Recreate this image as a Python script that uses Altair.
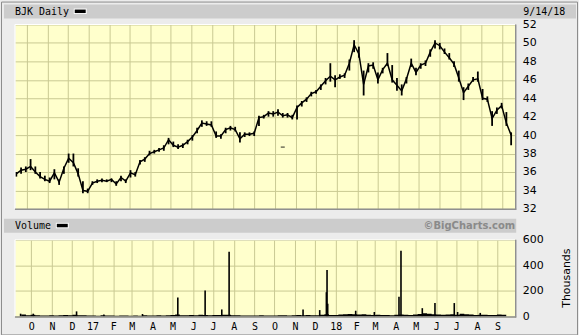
import altair as alt
import pandas as pd

# ---------------- data ----------------
week_start = "2016-09-16"   # weekly samples (Fridays)
n_weeks = 105

price_low = [
    35.5, 35.8, 36.0, 36.2, 35.8, 35.3, 35.0, 34.8, 35.2, 34.6,
    35.8, 37.0, 36.6, 35.5, 33.7, 33.7, 34.6, 34.8, 34.9, 34.9,
    34.9, 34.5, 35.0, 34.8, 35.4, 35.5, 36.8, 37.1, 37.8, 38.0,
    38.2, 38.3, 39.0, 38.7, 38.5, 38.6, 39.0, 39.4, 40.2, 40.9,
    41.0, 40.9, 39.7, 39.6, 40.2, 40.5, 40.4, 39.2, 39.8, 39.9,
    39.9, 41.0, 41.8, 42.0, 42.0, 42.1, 41.9, 41.9, 41.7, 41.7,
    43.1, 43.6, 44.2, 44.5, 44.9, 45.5, 45.8, 45.2, 46.1, 46.2,
    47.0, 49.0, 48.4, 44.3, 46.8, 47.2, 45.6, 46.7, 47.5, 45.7,
    44.8, 44.3, 45.6, 47.4, 46.5, 47.2, 47.5, 48.5, 49.4, 49.3,
    48.8, 48.2, 47.4, 45.8, 43.8, 44.9, 45.8, 45.8, 43.8, 43.6,
    41.0, 42.3, 42.9, 41.0, 38.9]
price_high = [
    36.0, 36.5, 36.6, 37.4, 36.6, 36.0, 35.6, 35.4, 36.3, 35.2,
    36.6, 38.0, 38.0, 36.4, 35.0, 34.2, 35.0, 35.2, 35.3, 35.2,
    35.3, 35.0, 35.6, 35.2, 36.2, 36.0, 37.3, 37.6, 38.3, 38.4,
    38.6, 38.9, 39.7, 39.3, 39.0, 39.1, 39.5, 40.0, 40.8, 41.6,
    41.5, 41.5, 40.4, 40.1, 40.8, 41.0, 40.9, 40.3, 40.3, 40.3,
    40.4, 42.1, 42.2, 42.6, 42.6, 42.8, 42.4, 42.4, 42.2, 43.2,
    43.7, 44.1, 44.7, 44.9, 45.5, 46.2, 47.8, 46.5, 46.6, 46.7,
    48.2, 50.3, 49.6, 47.0, 47.8, 47.9, 46.8, 47.3, 48.9, 47.6,
    46.2, 45.5, 46.3, 48.3, 47.3, 47.8, 48.1, 49.3, 50.3, 50.0,
    49.4, 48.9, 48.0, 47.0, 45.2, 45.6, 46.3, 46.9, 45.0, 44.2,
    42.6, 43.0, 43.5, 42.5, 40.3]
price_close = [
    35.8, 36.2, 36.3, 36.6, 36.0, 35.5, 35.2, 35.0, 35.9, 34.9,
    36.4, 37.5, 37.0, 35.8, 34.0, 33.9, 34.8, 35.0, 35.1, 35.0,
    35.2, 34.7, 35.4, 35.0, 35.9, 35.7, 37.1, 37.4, 38.0, 38.2,
    38.4, 38.6, 39.5, 38.9, 38.7, 38.9, 39.3, 39.8, 40.5, 41.3,
    41.2, 41.1, 39.9, 39.9, 40.6, 40.8, 40.6, 39.6, 40.1, 40.1,
    40.2, 41.9, 42.0, 42.4, 42.3, 42.5, 42.1, 42.2, 41.9, 43.0,
    43.5, 43.9, 44.5, 44.7, 45.3, 45.9, 46.4, 46.0, 46.3, 46.5,
    47.8, 49.8, 48.8, 45.5, 47.5, 47.6, 46.0, 47.1, 47.8, 46.0,
    45.4, 44.8, 46.1, 47.8, 46.8, 47.6, 47.8, 49.0, 50.0, 49.7,
    49.0, 48.4, 47.7, 46.2, 44.6, 45.3, 46.0, 46.1, 44.0, 43.9,
    41.8, 42.7, 43.2, 41.3, 40.0]

# weekly typical volume, thousands
vol_base = [
    15, 10, 14, 9, 8, 7, 9, 8, 10, 12,
    9, 14, 10, 9, 8, 7, 6, 9, 7, 8,
    6, 7, 8, 6, 7, 6, 9, 8, 7, 9,
    8, 10, 12, 15, 10, 9, 11, 10, 14, 12,
    10, 12, 11, 14, 13, 10, 9, 8, 7, 8,
    7, 9, 8, 7, 8, 9, 10, 8, 9, 11,
    10, 12, 9, 10, 14, 18, 12, 11, 16, 18,
    20, 17, 15, 18, 14, 12, 13, 12, 11, 10,
    13, 15, 14, 12, 16, 20, 25, 22, 18, 16,
    14, 15, 17, 14, 22, 18, 16, 12, 14, 13,
    11, 12, 15, 13, 14]

spike_dates = ["2016-09-15", "2016-10-04", "2016-12-08", "2017-01-18", "2017-03-17",
               "2017-05-09", "2017-06-19", "2017-07-14", "2017-07-25", "2017-11-13",
               "2017-12-08", "2017-12-18", "2017-12-19", "2017-12-20", "2018-01-31",
               "2018-02-28", "2018-04-06", "2018-04-09", "2018-05-11", "2018-05-30",
               "2018-06-28", "2018-07-03", "2018-08-06"]
spike_vol = [22, 22, 40, 16, 20,
             148, 203, 55, 506, 55,
             50, 190, 364, 100, 45,
             35, 155, 514, 65, 105,
             105, 35, 28]

odd_date = ["2017-10-13"]
odd_price = [38.7]

month_ticks = ["2016-10-01", "2016-11-01", "2016-12-01", "2017-01-01", "2017-02-01",
               "2017-03-01", "2017-04-01", "2017-05-01", "2017-06-01", "2017-07-01",
               "2017-08-01", "2017-09-01", "2017-10-01", "2017-11-01", "2017-12-01",
               "2018-01-01", "2018-02-01", "2018-03-01", "2018-04-01", "2018-05-01",
               "2018-06-01", "2018-07-01", "2018-08-01", "2018-09-01"]
price_ticks = [32, 34, 36, 38, 40, 42, 44, 46, 48, 50, 52]
vol_ticks = [0, 200, 400, 600]

# ---------------- styling ----------------
W, HP, HV = 502, 185, 77
YELLOW = "#ffffcc"
GRID = "#c9c993"
BAND = "#cccccc"
BG = "#ececec"
MONO = "DejaVu Sans Mono"
SANS = "DejaVu Sans"

dates = pd.date_range(week_start, periods=n_weeks, freq="7D").strftime("%Y-%m-%d")
price_df = pd.DataFrame({"date": dates, "low": price_low, "high": price_high, "close": price_close})
vol_df = pd.DataFrame({"date": dates, "vol": vol_base})
spike_df = pd.DataFrame({"date": spike_dates, "vol": spike_vol})
odd_df = pd.DataFrame({"date": odd_date, "close": odd_price})
one = pd.DataFrame({"k": [0]})

tick_ms = [int(pd.Timestamp(s, tz="UTC").value // 10**6) for s in month_ticks]
x_scale = alt.Scale(type="utc", domain=[alt.DateTime(year=2016, month=9, date=14, utc=True),
                                        alt.DateTime(year=2018, month=9, date=20, utc=True)])
label_expr = ("utcFormat(datum.value, '%m') == '01' ? utcFormat(datum.value, '%y') : "
              "substring(utcFormat(datum.value, '%b'), 0, 1)")


def x_axis(labels):
    return alt.Axis(values=tick_ms, tickCount=60, grid=True, gridColor=GRID, gridWidth=1,
                    labels=labels, ticks=False, domain=False, title=None, labelExpr=label_expr,
                    labelFont=MONO, labelFontSize=10, labelColor="black", labelPadding=5,
                    labelOverlap=False, labelFlush=False)


def deco(df=one):
    return alt.Chart(df)


# ---------------- price panel ----------------
p_rules = alt.Chart(price_df).mark_rule(color="black", strokeWidth=1.8).encode(
    x=alt.X("date:T", scale=x_scale, axis=x_axis(False)),
    y=alt.Y("low:Q", scale=alt.Scale(domain=[32, 52], nice=False, zero=False),
            axis=alt.Axis(orient="right", values=price_ticks, tickCount=40, grid=True,
                          gridColor=GRID, ticks=False, domain=False, title=None, format="d",
                          labelPadding=7, labelOverlap=False, labelFont=SANS,
                          labelFontSize=11, labelColor="black")),
    y2="high:Q",
)
p_line = alt.Chart(price_df).mark_line(color="black", strokeWidth=1.5).encode(
    x="date:T", y="close:Q")
p_odd = alt.Chart(odd_df).mark_tick(orient="horizontal", size=4, thickness=1.2, color="black").encode(
    x="date:T", y="close:Q")

p_band = deco().mark_rect(color=BAND).encode(
    x=alt.value(-11), x2=alt.value(563), y=alt.value(-20), y2=alt.value(-6))
p_title = deco().mark_text(text="BJK Daily", align="left", baseline="middle", font=MONO,
                           fontSize=10, color="black").encode(x=alt.value(0), y=alt.value(-13))
p_sw_w = deco().mark_rect(color="white").encode(
    x=alt.value(59), x2=alt.value(72), y=alt.value(-16), y2=alt.value(-10.5))
p_sw_b = deco().mark_rect(color="black").encode(
    x=alt.value(60), x2=alt.value(71), y=alt.value(-15), y2=alt.value(-11.5))
p_date = deco().mark_text(text="9/14/18", align="left", baseline="middle", font=MONO,
                          fontSize=10, color="black").encode(x=alt.value(510), y=alt.value(-13))
# outer frame of the picture
f_top = deco().mark_rule(color="#8c8c8c", strokeWidth=1).encode(
    x=alt.value(-13.5), x2=alt.value(564.5), y=alt.value(-22.5))
f_bot = deco().mark_rule(color="#8c8c8c", strokeWidth=1).encode(
    x=alt.value(-13.5), x2=alt.value(564.5), y=alt.value(311.5))
f_left = deco().mark_rule(color="#8c8c8c", strokeWidth=1).encode(
    x=alt.value(-13.5), y=alt.value(-22.5), y2=alt.value(311.5))
f_right = deco().mark_rule(color="#8c8c8c", strokeWidth=1).encode(
    x=alt.value(564.5), y=alt.value(-22.5), y2=alt.value(311.5))
# bevel of the plot
p_b1 = deco().mark_rule(color="#909090", strokeWidth=1.5).encode(
    x=alt.value(0), x2=alt.value(W + 1), y=alt.value(HP + 0.5))
p_b2 = deco().mark_rule(color="#909090", strokeWidth=1.5).encode(
    x=alt.value(W + 0.5), y=alt.value(0), y2=alt.value(HP + 1))
p_b3 = deco().mark_rule(color="white", strokeWidth=1).encode(
    x=alt.value(0), x2=alt.value(W), y=alt.value(0))
p_b4 = deco().mark_rule(color="white", strokeWidth=1).encode(
    x=alt.value(0), y=alt.value(0), y2=alt.value(HP))

price = alt.layer(p_rules, p_line, p_odd, p_band, p_title, p_sw_w, p_sw_b, p_date,
                  f_top, f_bot, f_left, f_right, p_b3, p_b4, p_b1, p_b2).properties(width=W, height=HP)

# ---------------- volume panel ----------------
v_base = alt.Chart(vol_df).mark_area(color="black", interpolate="step-after").encode(
    x=alt.X("date:T", scale=x_scale, axis=x_axis(True)),
    y=alt.Y("vol:Q", scale=alt.Scale(domain=[0, 600], nice=False),
            axis=alt.Axis(orient="right", values=vol_ticks, tickCount=20, grid=True,
                          gridColor=GRID, ticks=False, domain=False, labelPadding=7,
                          format="d", labelOverlap=False, labelFont=SANS, labelFontSize=11,
                          labelColor="black", title="Thousands",
                          titleAngle=270, titleX=51, titleY=38, titleAlign="center",
                          titleBaseline="middle", titleFont=SANS, titleFontSize=11,
                          titleFontWeight="normal", titleColor="black")),
)
v_spk = alt.Chart(spike_df).mark_bar(color="black", width=1.6).encode(x="date:T", y="vol:Q")

v_band = deco().mark_rect(color=BAND).encode(
    x=alt.value(-11), x2=alt.value(503), y=alt.value(-21), y2=alt.value(-7))
v_title = deco().mark_text(text="Volume", align="left", baseline="middle", font=MONO,
                           fontSize=10, color="black").encode(x=alt.value(0), y=alt.value(-14))
v_sw_w = deco().mark_rect(color="white").encode(
    x=alt.value(41), x2=alt.value(54), y=alt.value(-17), y2=alt.value(-11.5))
v_sw_b = deco().mark_rect(color="black").encode(
    x=alt.value(42), x2=alt.value(53), y=alt.value(-16), y2=alt.value(-12.5))
v_copy = deco().mark_text(text="\u00a9BigCharts.com", align="right", baseline="middle", font=SANS,
                          fontSize=10, fontWeight="bold", color="#8a8a8a").encode(
    x=alt.value(502), y=alt.value(-14))
v_b1 = deco().mark_rule(color="#909090", strokeWidth=1.5).encode(
    x=alt.value(0), x2=alt.value(W + 1), y=alt.value(HV + 0.5))
v_b2 = deco().mark_rule(color="#909090", strokeWidth=1.5).encode(
    x=alt.value(W + 0.5), y=alt.value(0), y2=alt.value(HV + 1))
v_b3 = deco().mark_rule(color="white", strokeWidth=1).encode(
    x=alt.value(0), x2=alt.value(W), y=alt.value(0))
v_b4 = deco().mark_rule(color="white", strokeWidth=1).encode(
    x=alt.value(0), y=alt.value(0), y2=alt.value(HV))

volume = alt.layer(v_base, v_spk, v_band, v_title, v_sw_w, v_sw_b, v_copy,
                   v_b3, v_b4, v_b1, v_b2).properties(width=W, height=HV)

chart = alt.vconcat(price, volume, spacing=31, bounds="flush").properties(
    padding=0, background=BG
).configure_view(fill=YELLOW, stroke="transparent")

chart.save("out.html", embed_options={"renderer": "svg", "actions": False})
